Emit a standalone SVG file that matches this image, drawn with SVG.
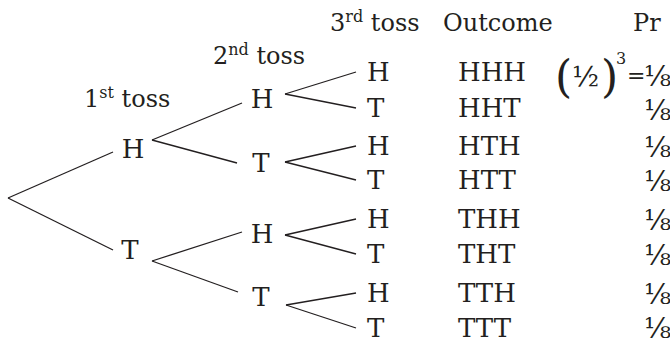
<svg xmlns="http://www.w3.org/2000/svg" width="670" height="345" viewBox="0 0 670 345">
<style>
text{font-family:"DejaVu Serif",serif;fill:#231f20;font-size:26px}
.hd{font-size:24px}
.sup{font-size:16px}
.big{font-size:44px}
.frac{font-size:28px}
.eq{font-size:22px}
.mid{text-anchor:middle}
#connectors line{stroke:#231f20;stroke-width:1.3;fill:none}
</style>
<rect width="670" height="345" fill="#fff"/>
<g id="headers">
<text class="hd" x="84" y="107">1<tspan class="sup" dy="-9">st</tspan><tspan dy="9"> toss</tspan></text>
<text class="hd" x="213" y="64">2<tspan class="sup" dy="-9">nd</tspan><tspan dy="9"> toss</tspan></text>
<text class="hd" x="330" y="31">3<tspan class="sup" dy="-9">rd</tspan><tspan dy="9"> toss</tspan></text>
<text class="hd" x="443" y="31">Outcome</text>
<text class="hd" x="633" y="31">Pr</text>
</g>
<g id="connectors">
<line x1="8" y1="198" x2="113" y2="152"/>
<line x1="8" y1="198" x2="113" y2="250"/>
<line x1="152" y1="140" x2="242" y2="103"/>
<line x1="152" y1="140" x2="237" y2="163"/>
<line x1="152" y1="261" x2="242" y2="232"/>
<line x1="152" y1="261" x2="238" y2="292"/>
<line x1="285" y1="94" x2="356" y2="72"/>
<line x1="285" y1="94" x2="356" y2="108"/>
<line x1="285" y1="162" x2="356" y2="146"/>
<line x1="285" y1="162" x2="356" y2="180"/>
<line x1="285" y1="235" x2="356" y2="219"/>
<line x1="285" y1="235" x2="356" y2="254"/>
<line x1="286" y1="305" x2="356" y2="293"/>
<line x1="286" y1="305" x2="356" y2="328"/>
</g>
<g id="n1H"><text class="mid" x="133" y="158">H</text></g>
<g id="n1T"><text class="mid" x="130" y="259">T</text></g>
<g id="n2HH"><text class="mid" x="262" y="108">H</text></g>
<g id="n2HT"><text class="mid" x="261" y="172">T</text></g>
<g id="n2TH"><text class="mid" x="262" y="243">H</text></g>
<g id="n2TT"><text class="mid" x="261" y="306">T</text></g>
<g id="r1"><text x="367" y="81">H</text><text x="458" y="81">HHH</text>
<text class="big" x="555" y="92">(</text><text class="frac" x="572" y="86">½</text><text class="big" x="601" y="92">)</text><text class="sup" x="616" y="64">3</text><text class="eq" x="627" y="83">=</text><text class="frac" x="644" y="86">⅛</text></g>
<g id="r2"><text x="367" y="117">T</text><text x="458" y="117">HHT</text><text class="frac" x="644" y="120">⅛</text></g>
<g id="r3"><text x="367" y="155">H</text><text x="458" y="155">HTH</text><text class="frac" x="644" y="157">⅛</text></g>
<g id="r4"><text x="367" y="189">T</text><text x="458" y="189">HTT</text><text class="frac" x="644" y="191">⅛</text></g>
<g id="r5"><text x="367" y="228">H</text><text x="458" y="228">THH</text><text class="frac" x="644" y="230">⅛</text></g>
<g id="r6"><text x="367" y="263">T</text><text x="458" y="263">THT</text><text class="frac" x="644" y="265">⅛</text></g>
<g id="r7"><text x="367" y="302">H</text><text x="458" y="302">TTH</text><text class="frac" x="644" y="304">⅛</text></g>
<g id="r8"><text x="367" y="337">T</text><text x="458" y="337">TTT</text><text class="frac" x="644" y="338">⅛</text></g>
</svg>
